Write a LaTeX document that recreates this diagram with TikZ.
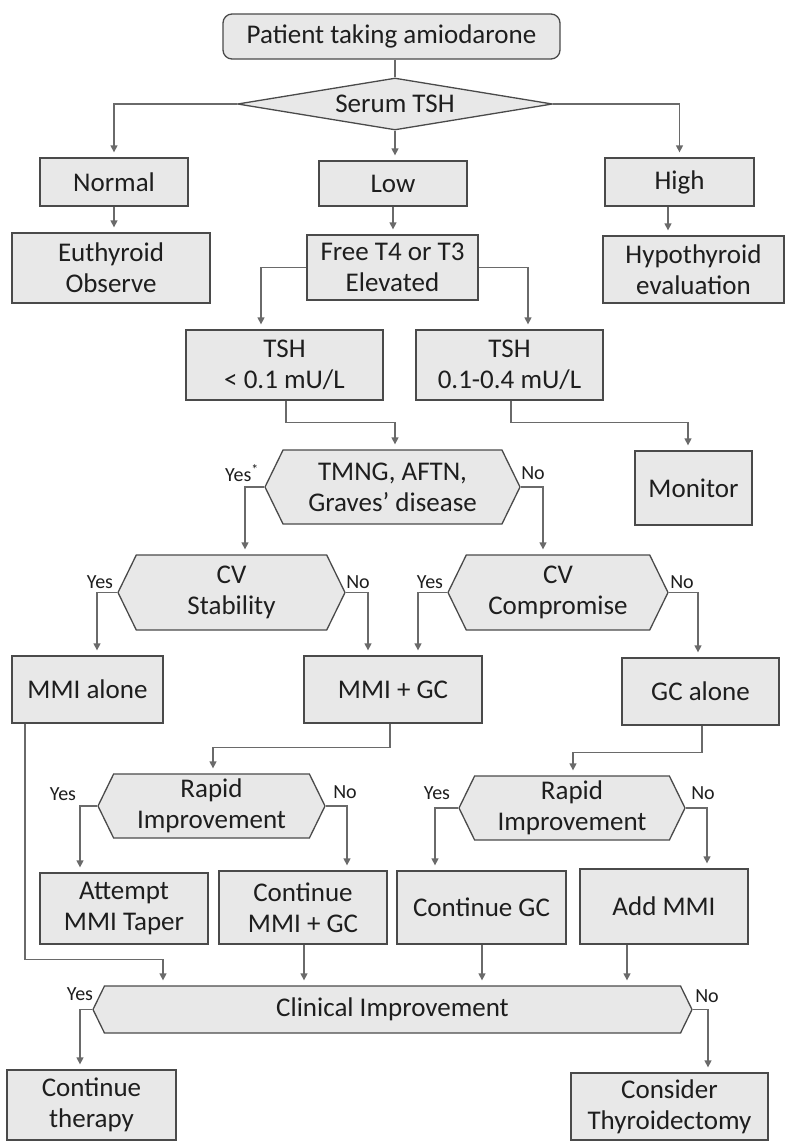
\documentclass[tikz,border=0pt]{standalone}
\usepackage{fontspec}
\setmainfont{Carlito}
\usetikzlibrary{shapes.geometric,shapes.symbols,arrows.meta}
\definecolor{boxfill}{HTML}{E8E8E8}
\definecolor{boxline}{HTML}{4A4A4A}
\definecolor{conn}{HTML}{6A6A6A}
\definecolor{txt}{HTML}{1E1E1E}
\begin{document}
\begin{tikzpicture}[x=1pt,y=-1pt,
  base/.style={draw=boxline, fill=boxfill, line width=1.3pt, text=txt, font=\fontsize{27}{31}\selectfont, align=center, inner sep=0pt},
  box/.style={base, rectangle},
  hex/.style={base, signal, signal to=east and west, signal pointer angle=128},
  lbl/.style={font=\fontsize{20}{22}\selectfont, text=txt, inner sep=0pt},
  arr/.style={draw=conn, line width=1.3pt, -{Triangle[width=7pt,length=7pt]}, shorten >=5pt},
  ln/.style={draw=conn, line width=1.3pt}]
\useasboundingbox (0,0) rectangle (785,1141);
\fill[white] (0,0) rectangle (785,1141);

\node[box, rounded corners=9pt, minimum width=337pt, minimum height=45pt] (start) at (391.5,36.5) {Patient taking amiodarone};
\node[base, diamond, aspect=6, minimum width=315pt, minimum height=52pt] (tsh) at (395,104) {Serum TSH};
\node[box, minimum width=148pt, minimum height=48pt] (normal) at (114,182) {Normal};
\node[box, minimum width=148pt, minimum height=45pt] (low) at (393,183.5) {Low};
\node[box, minimum width=149pt, minimum height=48pt] (high) at (679.5,182) {High};
\node[box, minimum width=198pt, minimum height=70pt] (euth) at (111,268) {Euthyroid\\Observe};
\node[box, minimum width=171pt, minimum height=65pt] (free) at (392.5,267.5) {Free T4 or T3\\Elevated};
\node[box, minimum width=181pt, minimum height=67pt] (hypo) at (693.5,269.5) {Hypothyroid\\evaluation};
\node[box, minimum width=197pt, minimum height=70pt] (tshA) at (284.5,365) {TSH\\< 0.1 mU/L};
\node[box, minimum width=187pt, minimum height=70pt] (tshB) at (509.5,365) {TSH\\0.1-0.4 mU/L};
\node[hex, minimum width=255pt, minimum height=74pt] (tmng) at (392.5,487) {TMNG, AFTN,\\Graves’ disease};
\node[box, minimum width=117pt, minimum height=74pt] (mon) at (693.5,488) {Monitor};
\node[hex, minimum width=227pt, minimum height=75pt] (cvs) at (231.5,592.5) {CV\\Stability};
\node[hex, minimum width=220pt, minimum height=75pt] (cvc) at (558,592.5) {CV\\Compromise};
\node[box, minimum width=151pt, minimum height=67pt] (mmi) at (87.5,689.5) {MMI alone};
\node[box, minimum width=178pt, minimum height=67pt] (mgc) at (393,689.5) {MMI + GC};
\node[box, minimum width=157pt, minimum height=67pt] (gca) at (700.5,691.5) {GC alone};
\node[hex, minimum width=227pt, minimum height=64pt] (rpA) at (211.5,806) {Rapid\\Improvement};
\node[hex, minimum width=226pt, minimum height=64pt] (rpB) at (572,808) {Rapid\\Improvement};
\node[box, minimum width=168pt, minimum height=71pt] (att) at (124,908.5) {Attempt\\MMI Taper};
\node[box, minimum width=168pt, minimum height=73pt] (cmg) at (303,907.5) {Continue\\MMI + GC};
\node[box, minimum width=169pt, minimum height=73pt] (cgc) at (481.5,907.5) {Continue GC};
\node[box, minimum width=168pt, minimum height=75pt] (add) at (664,906.5) {Add MMI};
\node[hex, minimum width=599pt, minimum height=47pt] (clin) at (392.5,1009.5) {Clinical Improvement};
\node[box, minimum width=169pt, minimum height=70pt] (cth) at (91.5,1105) {Continue\\therapy};
\node[box, minimum width=197pt, minimum height=67pt] (cons) at (669.5,1106.5) {Consider\\Thyroidectomy};

\node[lbl] (yT) at (242,473) {Yes\textsuperscript{*}};
\node[lbl] (nT) at (533,473) {No};
\node[lbl] (yS) at (100,582) {Yes};
\node[lbl] (nS) at (358,582) {No};
\node[lbl] (yC) at (430,582) {Yes};
\node[lbl] (nC) at (682,582) {No};
\node[lbl] (yR1) at (63,794) {Yes};
\node[lbl] (nR1) at (345,792) {No};
\node[lbl] (yR2) at (437,793) {Yes};
\node[lbl] (nR2) at (703,793) {No};
\node[lbl] (yCl) at (80,994) {Yes};
\node[lbl] (nCl) at (707,996) {No};

\draw[ln] (start.south -| tsh.north) -- (tsh.north);
\draw[arr] (tsh.west) -| (normal.north);
\draw[arr] (tsh.south) -- (tsh.south |- low.north);
\draw[arr] (tsh.east) -| (high.north);
\draw[arr] (normal.south) -- (euth.north -| normal.south);
\draw[arr] (low.south) -- (free.north -| low.south);
\draw[arr] ([xshift=-11.5pt]high.south) -- ([xshift=-25.5pt]hypo.north);
\draw[arr] (free.west) -| ([xshift=-23.5pt]tshA.north);
\draw[arr] (free.east) -| ([xshift=18.5pt]tshB.north);
\draw[arr] ([xshift=1.5pt]tshA.south) -- ++(0,22) -| ([xshift=2.5pt]tmng.north);
\draw[arr] ([xshift=1.5pt]tshB.south) -- ++(0,22) -| ([xshift=-5.5pt]mon.north);
\draw[arr] (tmng.west) -| ([xshift=13.5pt]cvs.north);
\draw[arr] (tmng.east) -| ([xshift=-15pt]cvc.north);
\draw[arr] (cvs.west) -| ([xshift=9.5pt]mmi.north);
\draw[arr] (cvs.east) -| ([xshift=-25pt]mgc.north);
\draw[arr] (cvc.west) -| ([xshift=25pt]mgc.north);
\draw[arr] (cvc.east) -| ([xshift=-2.5pt]gca.north);
\draw[arr] ([xshift=-3pt]mgc.south) -- ++(0,24) -| ([xshift=1.5pt]rpA.north);
\draw[arr] ([xshift=1.5pt]gca.south) -- ++(0,27) -| ([xshift=1pt]rpB.north);
\draw[arr] (rpA.west) -| ([xshift=-44pt]att.north);
\draw[arr] (rpA.east) -| ([xshift=44pt]cmg.north);
\draw[arr] (rpB.west) -| ([xshift=-46.5pt]cgc.north);
\draw[arr] (rpB.east) -| ([xshift=43pt]add.north);
\draw[arr] ([xshift=-62.5pt]mmi.south) -- ++(0,236) -| ([xshift=-229.5pt]clin.north);
\draw[arr] ([xshift=1pt]cmg.south) -- ([xshift=-88.5pt]clin.north);
\draw[arr] ([xshift=0.5pt]cgc.south) -- ([xshift=89.5pt]clin.north);
\draw[arr] ([xshift=-37pt]add.south) -- ([xshift=234.5pt]clin.north);
\draw[arr] (clin.west) -| ([xshift=-11.5pt]cth.north);
\draw[arr] (clin.east) -| ([xshift=38.5pt]cons.north);
\end{tikzpicture}
\end{document}
